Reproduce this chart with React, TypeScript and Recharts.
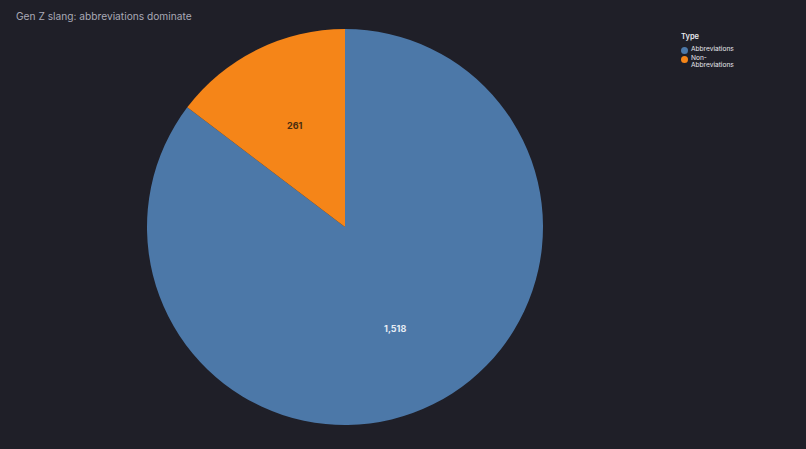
import React from "react";
import { PieChart, Pie, Cell } from "recharts";

const categories = ["Abbreviations", "Non-Abbreviations"];
const counts = [1518, 261];
const colors = ["#4c78a8", "#f58518"];
const labelColors = ["#e6ecf4", "#4a2e10"];

const data = categories.map((name, i) => ({ name, value: counts[i] }));

const RAD = Math.PI / 180;
const FONT = "Inter, 'Noto Sans', sans-serif";

const renderLabel = (props: any) => {
  const { cx, cy, midAngle, outerRadius, value, index } = props;
  const r = outerRadius * 0.57;
  const x = cx + r * Math.cos(-midAngle * RAD);
  const y = cy + r * Math.sin(-midAngle * RAD);
  return (
    <text
      x={x}
      y={y}
      fill={labelColors[index]}
      textAnchor="middle"
      dominantBaseline="central"
      fontSize={9}
      fontWeight={700}
      fontFamily={FONT}
    >
      {value.toLocaleString("en-US")}
    </text>
  );
};

export default function App() {
  return (
    <div
      style={{
        position: "absolute",
        left: 0,
        top: 0,
        width: 806,
        height: 449,
        background: "#1f1f28",
        overflow: "hidden",
      }}
    >
      <div
        style={{
          position: "absolute",
          left: 16,
          top: 10,
          fontSize: 10.2,
          color: "#a9a9b6",
          fontFamily: FONT,
        }}
      >
        Gen Z slang: abbreviations dominate
      </div>
      <div
        style={{
          position: "absolute",
          left: 681,
          top: 32,
          width: 80,
          fontFamily: FONT,
          color: "#e8e8ee",
        }}
      >
        <div style={{ fontSize: 7.5, fontWeight: 600, marginBottom: 5 }}>Type</div>
        {categories.map((c, i) => (
          <div key={c} style={{ display: "flex", alignItems: "flex-start", marginBottom: 1.5 }}>
            <span
              style={{
                width: 7,
                height: 7,
                borderRadius: "50%",
                background: colors[i],
                marginRight: 3,
                marginTop: 0.5,
                flexShrink: 0,
              }}
            />
            <span style={{ fontSize: 6.6, lineHeight: "7px", width: 44 }}>{c}</span>
          </div>
        ))}
      </div>
      <div style={{ position: "absolute", left: 0, top: 0 }}>
        <PieChart width={806} height={449} margin={{ top: 0, right: 0, bottom: 0, left: 0 }}>
          <Pie
            data={data}
            dataKey="value"
            nameKey="name"
            cx={345}
            cy={227}
            outerRadius={198}
            innerRadius={0}
            startAngle={90}
            endAngle={-270}
            stroke="none"
            isAnimationActive={false}
            labelLine={false}
            label={renderLabel}
          >
            {data.map((d, i) => (
              <Cell key={d.name} fill={colors[i]} />
            ))}
          </Pie>
        </PieChart>
      </div>
    </div>
  );
}
